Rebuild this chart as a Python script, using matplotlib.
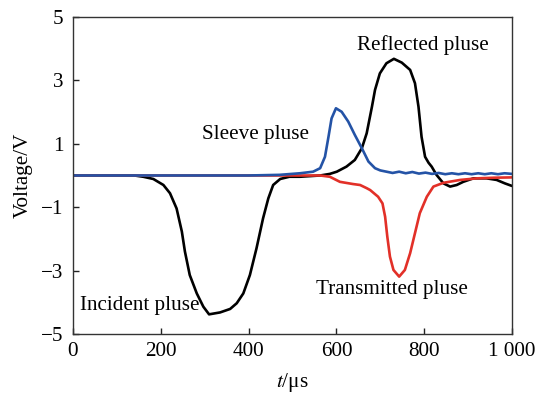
import matplotlib.pyplot as plt

plt.rcParams['font.family'] = ['Liberation Serif', 'DejaVu Serif']
plt.rcParams['mathtext.fontset'] = 'stix'

# 入射/反射波 (黑线)
t_black = [0, 100, 140, 160, 183, 206, 221, 236, 248, 255, 266, 282, 297, 310, 335, 358,
           373, 388, 403, 418, 433, 445, 456, 472, 493, 517, 540, 563, 585, 601, 623,
           642, 658, 669, 681, 688, 699, 714, 731, 749, 768, 779, 787, 794, 802, 810,
           817, 828, 844, 859, 874, 889, 912, 942, 965, 984, 1000]
v_black = [0, 0, 0, -0.04, -0.11, -0.3, -0.56, -1.04, -1.77, -2.4, -3.14, -3.72, -4.14,
           -4.38, -4.32, -4.21, -4.03, -3.72, -3.14, -2.3, -1.35, -0.72, -0.3, -0.11,
           -0.04, -0.04, -0.02, 0.0, 0.05, 0.12, 0.28, 0.49, 0.86, 1.33, 2.17, 2.7, 3.22,
           3.54, 3.68, 3.56, 3.33, 2.91, 2.17, 1.22, 0.59, 0.4, 0.28, 0.02, -0.25, -0.35,
           -0.3, -0.2, -0.09, -0.09, -0.14, -0.25, -0.33]

# 套筒波 (蓝线)
t_blue = [0, 400, 470, 517, 547, 563, 574, 582, 589, 599, 612, 627, 642, 658, 673, 688,
          700, 714, 728, 743, 758, 773, 788, 803, 818, 833, 848, 863, 878, 893, 908,
          923, 938, 953, 968, 983, 1000]
v_blue = [0, 0, 0.02, 0.07, 0.12, 0.23, 0.59, 1.22, 1.8, 2.12, 2.01, 1.7, 1.28, 0.86,
          0.44, 0.23, 0.16, 0.12, 0.08, 0.12, 0.07, 0.11, 0.06, 0.09, 0.05, 0.08, 0.04,
          0.07, 0.04, 0.07, 0.04, 0.07, 0.04, 0.07, 0.04, 0.07, 0.05]

# 透射波 (红线)
t_red = [0, 450, 540, 563, 585, 608, 638, 654, 669, 677, 695, 705, 711, 716, 722, 730,
         743, 756, 768, 779, 790, 806, 821, 844, 882, 920, 960, 1000]
v_red = [0, 0, 0, 0.0, -0.04, -0.2, -0.27, -0.3, -0.4, -0.46, -0.67, -0.88, -1.3,
         -1.93, -2.56, -2.98, -3.19, -2.98, -2.45, -1.82, -1.19, -0.67, -0.35, -0.23,
         -0.14, -0.09, -0.07, -0.06]

fig = plt.figure(figsize=(5.35, 3.94), dpi=100)
ax = fig.add_axes([0.1364, 0.1523, 0.8206, 0.8046])

line_kw = dict(lw=1.9, solid_joinstyle='round', solid_capstyle='round')
ax.plot(t_black, v_black, color='black', **line_kw)
ax.plot(t_red, v_red, color='#e23028', **line_kw)
ax.plot(t_blue, v_blue, color='#2453a6', **line_kw)

fs = 15.2
ax.text(797, 4.13, 'Reflected pluse', fontsize=fs, ha='center', va='center')
ax.text(415, 1.28, 'Sleeve pluse', fontsize=fs, ha='center', va='center')
ax.text(727, -3.6, 'Transmitted pluse', fontsize=fs, ha='center', va='center')
ax.text(153, -4.1, 'Incident pluse', fontsize=fs, ha='center', va='center')

ax.set_xlim(0, 1000)
ax.set_ylim(-5, 5)
ax.set_xticks([0, 200, 400, 600, 800, 1000])
ax.set_xticklabels(['0', '200', '400', '600', '800', '1 000'])
ax.set_yticks([-5, -3, -1, 1, 3, 5])
ax.set_yticklabels(['\u22125', '\u22123', '\u22121', '1', '3', '5'])
ax.tick_params(direction='in', length=4, width=1, labelsize=fs, colors='#222222',
               labelcolor='black')
ax.tick_params(axis='x', pad=6)
ax.tick_params(axis='y', pad=7)
for s in ax.spines.values():
    s.set_color('#333333')
    s.set_linewidth(1)

ax.set_xlabel(r'$\mathit{t}$/μs', fontsize=fs, labelpad=7)
ax.set_ylabel('Voltage/V', fontsize=fs, labelpad=6)

fig.savefig('out.png', dpi=100)
